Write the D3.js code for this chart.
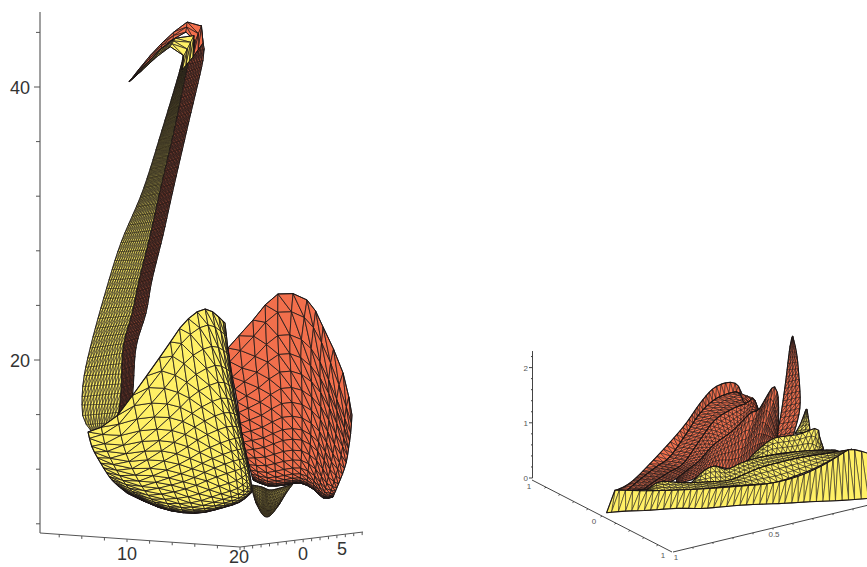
<!DOCTYPE html>
<html>
  <head>
    <meta charset="utf-8">
    <script src="https://d3js.org/d3.v7.min.js"></script>
    <title>Swan surface and ridge surface</title>
    <style>
      body { margin: 0px; background: #fff; }
      svg { display: block; }
      .big text { font-family: "Liberation Sans", sans-serif; font-size: 18px; fill: #333; }
      .small text { font-family: "Liberation Sans", sans-serif; font-size: 8px; fill: #555; opacity: 0.99; }
    </style>
  </head>
  <body>
    <script>
      // values, as [horizontal axis units, vertical axis units]
      // every rail is one edge or ridge line of a surface; the mesh is spun between rails

      // left plot ticks
      const swanZTicks = [8, 12, 16, 20, 24, 28, 32, 36, 40, 44];
      const swanZLabels = [20, 40];
      const swanXTicks = [4, 6, 8, 10, 12, 14, 16, 18, 20];
      const swanXLabels = [10, 20];
      const swanYTicks = [-7, -6, -5, -4, -3, -2, -1, 0, 1, 2, 3, 4, 5, 6, 7];
      const swanYLabels = [0, 5];

      // neck, bottom to top
      const neckLeft = [[6.9,14.73],[6.19,15.6],[6.02,16.7],[6.19,18.75],[6.99,21.68],[8.41,25.86],[9.56,28.79],[11.42,32.45],[13.1,36.85],[14.69,41.25],[14.96,42.34]];
      const neckMid = [[8.67,14.87],[9.2,15.97],[9.47,17.8],[9.65,20.95],[10.44,23.44],[11.06,25.86],[12.04,29.16],[12.92,32.45],[14.25,37.22],[15.31,41.47],[15.66,42.71]];
      const neckRedInner = [[8.67,14.87],[9.2,15.97],[9.47,17.8],[9.65,20.95],[10.44,23.44],[11.06,25.86],[12.04,29.16],[12.92,32.45],[14.25,37.22],[15.31,41.47],[15.66,42.71],[16.02,44.1]];
      const neckRight = [[9.56,15.24],[10.27,16.34],[10.53,17.8],[10.8,20.95],[11.68,23.44],[12.21,25.86],[13.19,29.16],[14.07,32.45],[15.4,37.22],[16.73,41.98],[16.73,43.22],[16.55,44.54]];

      // head, beak tip to crown
      const headTop = [[10.18,40.37],[11.86,42.12],[13.54,43.59],[14.51,44.25],[15.58,44.84],[16.55,44.54],[16.73,43.22]];
      const headMid = [[10.18,40.37],[12.04,41.98],[13.54,43.22],[14.51,43.66],[15.31,44.03],[16.02,43.59],[15.84,42.2]];
      const headUnder = [[10.18,40.37],[11.86,41.61],[12.92,42.42],[14.07,43.0],[14.96,42.34],[15.4,41.98],[14.87,41.25]];

      // yellow body, upper edge to belly
      const bodyRail0 = [[6.55,14.73],[6.9,13.63],[7.61,12.53],[8.67,11.21],[10.0,10.26]];
      const bodyRail1 = [[8.76,15.6],[9.2,13.77],[10.0,12.09],[11.15,10.48],[12.48,9.3]];
      const bodyRail2 = [[11.15,18.17],[11.77,15.6],[12.48,13.04],[13.36,10.84],[14.51,8.86]];
      const bodyRail3 = [[13.36,20.73],[13.98,17.44],[14.69,14.14],[15.58,10.84],[16.46,8.79]];
      const bodyRail4 = [[15.13,22.78],[15.75,18.9],[16.64,14.87],[17.52,11.58],[18.41,9.16]];
      const bodyRail5 = [[16.99,23.74],[17.79,20],[18.67,15.97],[19.56,12.31],[20,9.6]];
      const bodyRail6 = [[18.67,22.71],[19.29,18.53],[20.27,14.14],[20.88,11.58],[21.06,10.33]];

      // red wing, upper edge to lower edge
      const wingRail0 = [[18.94,20.88],[19.29,18.9],[19.73,17.07],[20.27,14.14],[21.15,11.21]];
      const wingRail1 = [[21.15,22.93],[21.33,20.37],[21.77,17.07],[22.12,13.77],[22.48,10.77]];
      const wingRail2 = [[23.36,24.84],[23.36,21.47],[23.63,17.8],[23.81,14.14],[23.98,10.84]];
      const wingRail3 = [[25.93,24.4],[25.4,21.1],[25.49,17.8],[25.49,14.14],[25.31,10.99]];
      const wingRail4 = [[27.35,22.42],[27.08,19.63],[27.17,16.7],[26.9,13.41],[26.46,10.55]];
      const wingRail5 = [[29.12,19.05],[28.58,17.44],[28.58,15.24],[28.05,12.31],[27.35,9.89]];
      const wingRail6 = [[29.91,15.97],[29.82,14.87],[29.65,13.77],[29.29,12.16],[28.23,9.96]];

      // small yellow cone under the wing
      const coneRail0 = [[21.06,10.84],[21.15,10.26],[21.42,9.52]];
      const coneRail1 = [[21.95,10.7],[21.95,9.74],[21.95,8.72]];
      const coneRail2 = [[22.65,10.48],[22.57,9.52],[22.39,8.5]];
      const coneRail3 = [[23.54,10.62],[23.27,9.74],[22.83,8.72]];
      const coneRail4 = [[24.69,10.92],[24.16,10.33],[23.45,9.38]];

      // right plot ticks
      const ridgeZMajor = [0, 1, 2];
      const ridgeZMinor = [0.2, 0.4, 0.6, 0.8, 1.2, 1.4, 1.6, 1.8, 2.2];
      const ridgeYTicks = [-0.8, -0.6, -0.4, -0.2, 0, 0.2, 0.4, 0.6, 0.8];
      const ridgeYLabels = [[-1, "1"], [0, "0"], [1, "1"]];
      const ridgeXTicks = [0.9, 0.8, 0.7, 0.6, 0.5, 0.4, 0.3, 0.2, 0.1];
      const ridgeXLabels = [[1, "1"], [0.5, "0.5"]];

      // red ridges, ridge line and foot
      const ridge1Top = [[1.282,-.218],[1.207,-.067],[1.082,.386],[.948,.929],[.865,1.352],[.798,1.624],[.732,1.727],[.682,1.703],[.657,1.533],[.648,1.413]];
      const ridge2Top = [[1.232,-.23],[1.148,.023],[1.082,.205],[1.015,.386],[.932,.809],[.865,1.171],[.782,1.443],[.682,1.564],[.662,1.503],[.648,1.382]];
      const ridge3Top = [[1.148,-.206],[1.082,-.037],[1.015,.114],[.948,.265],[.865,.688],[.79,1.05],[.698,1.262],[.632,1.352],[.598,1.443],[.573,1.231]];
      const ridge3Base = [[1.082,-.206],[.982,-.007],[.923,.156],[.865,.325],[.798,.597],[.715,.809],[.665,.96],[.615,1.171],[.573,1.231],[.573,1.231]];
      const ridge4Top = [[.982,-.007],[.923,.156],[.865,.325],[.798,.597],[.698,.869],[.615,1.171],[.573,1.231],[.532,1.473],[.498,1.654],[.477,1.533],[.472,1.171],[.478,.688]];
      const ridge4Base = [[.982,-.097],[.898,-.019],[.84,.144],[.79,.217],[.732,.174],[.682,.205],[.615,.356],[.565,.507],[.523,.597],[.498,.658],[.482,.676],[.478,.688]];
      const spikeLeft = [[.49,.688],[.465,1.05],[.44,1.654],[.415,2.379],[.402,2.572]];
      const spikeRight = [[.398,.778],[.365,1.292],[.373,1.956],[.385,2.319],[.402,2.572]];

      // yellow ridges in front
      const farPeakLeft = [[.39,.808],[.365,.96],[.335,1.243]];
      const farPeakRight = [[.315,.839],[.318,.96],[.33,1.243]];
      const yellow1Top = [[.615,.374],[.557,.567],[.498,.718],[.432,.76],[.365,.797],[.282,.899],[.265,.718],[.248,.537]];
      const yellow1Base = [[.615,.265],[.548,.386],[.482,.434],[.432,.458],[.382,.476],[.315,.495],[.273,.507],[.248,.519]];
      const yellow2Top = [[.89,-.019],[.84,.144],[.79,.217],[.732,.156],[.665,.265],[.615,.325],[.548,.386],[.382,.476],[.282,.501],[.19,.507]];
      const yellow2Base = [[.915,-.109],[.815,-.097],[.715,-.037],[.632,.084],[.548,.205],[.465,.283],[.382,.356],[.298,.416],[.215,.458],[.165,.476]];
      const yellow3Top = [[1.132,-.218],[1.065,-.067],[.948,-.085],[.815,-.067],[.715,-.037],[.632,.084],[.548,.205],[.382,.356],[.248,.434],[.107,.519]];
      const yellow3Base = [[1.132,-.23],[1.015,-.224],[.882,-.206],[.748,-.158],[.615,-.122],[.498,-.085],[.398,.023],[.282,.193],[.173,.398],[.107,.519]];
      const skirtTop = [[1.29,-.218],[1.132,-.23],[.982,-.218],[.815,-.188],[.648,-.14],[.515,-.097],[.382,.023],[.265,.205],[.165,.416],[.107,.519],[-.002,.416]];
      const skirtBottom = [[1.332,-.629],[1.232,-.599],[1.132,-.587],[.982,-.55],[.848,-.55],[.648,-.49],[.448,-.46],[.315,-.43],[.182,-.411],[.082,-.387],[-.002,-.363]];

      const width = 867;
      const height = 567;
      const yellow = "#fff066";
      const red = "#f26f4c";

      const svg = d3.select("body").append("svg")
        .attr("width", width)
        .attr("height", height);

      // scales
      const swanX = d3.scaleLinear().domain([10, 20]).range([127, 240]);
      const swanZ = d3.scaleLinear().domain([20, 40]).range([360, 87]);
      const swanXAxis = d3.scaleLinear().domain([2.3, 20]).range([[40, 533], [240, 547]]);
      const swanYAxis = d3.scaleLinear().domain([-7.5, 7.1]).range([[240, 547], [363, 532]]);

      const ridgeX = d3.scaleLinear().domain([1, 0.5]).range([673, 773]);
      const ridgeZ = d3.scaleLinear().domain([0, 2]).range([478, 367.6]);
      const ridgeXAxis = d3.scaleLinear().domain([1, 0]).range([[673, 552], [873, 504]]);
      const ridgeYAxis = d3.scaleLinear().domain([-1, 1]).range([[532, 480], [672, 552]]);

      // catmull-rom through a list of points, s from 0 to 1
      function through(p, s) {
        const n = p.length - 1;
        const k = Math.min(Math.floor(s * n), n - 1);
        const t = s * n - k;
        if (n === 1) return [p[0][0] + (p[1][0] - p[0][0]) * t, p[0][1] + (p[1][1] - p[0][1]) * t];
        const a = p[Math.max(k - 1, 0)], b = p[k], c = p[k + 1], d = p[Math.min(k + 2, n)];
        return [0, 1].map(i => 0.5 * (2 * b[i] + (c[i] - a[i]) * t
          + (2 * a[i] - 5 * b[i] + 4 * c[i] - d[i]) * t * t
          + (3 * b[i] - a[i] - 3 * c[i] + d[i]) * t * t * t));
      }

      // walk a rail by its length so the cells come out even
      function railWalker(rail) {
        let total = 0;
        const lengths = rail.map((d, i) => {
          if (i > 0) total += Math.hypot(d[0] - rail[i - 1][0], d[1] - rail[i - 1][1]);
          return total;
        });
        const toIndex = d3.scaleLinear().domain(lengths).range(d3.range(rail.length));
        return s => through(rail, toIndex(s * total) / (rail.length - 1));
      }

      function drawSurface(g, rails, x, z, opts) {
        const walkers = rails.map(r => railWalker(r.map(d => [x(d[0]), z(d[1])])));
        const along = opts.along || (t => t);
        const across = opts.across || (t => t);

        const grid = d3.range(opts.nu + 1).map(i => {
          const row = walkers.map(w => w(along(i / opts.nu)));
          return d3.range(opts.nv + 1).map(j => through(row, across(j / opts.nv)));
        });

        const triangles = [];
        for (let i = 0; i < opts.nu; i++) {
          for (let j = 0; j < opts.nv; j++) {
            const a = grid[i][j], b = grid[i + 1][j], c = grid[i + 1][j + 1], d = grid[i][j + 1];
            triangles.push([a, b, c], [a, c, d]);
          }
        }

        const line = d3.line();
        g.append("g").selectAll("path").data(triangles).join("path")
          .attr("d", d => line(d) + "Z")
          .attr("fill", opts.fill)
          .attr("stroke", "#1c1616")
          .attr("stroke-width", opts.stroke)
          .attr("stroke-linejoin", "round");

        const outline = grid[0]
          .concat(grid.map(r => r[opts.nv]))
          .concat(grid[opts.nu].slice().reverse())
          .concat(grid.map(r => r[0]).reverse());
        g.append("path")
          .attr("d", line(outline) + "Z")
          .attr("fill", "none")
          .attr("stroke", "#1c1616")
          .attr("stroke-width", opts.edge)
          .attr("stroke-linejoin", "round");
      }

      function obliqueTicks(g, scale, values, dx, dy, color) {
        g.append("g").selectAll("line").data(values).join("line")
          .attr("x1", d => scale(d)[0])
          .attr("y1", d => scale(d)[1])
          .attr("x2", d => scale(d)[0] + dx)
          .attr("y2", d => scale(d)[1] + dy)
          .attr("stroke", color)
          .attr("stroke-width", 1);
      }

      function obliqueLine(g, scale, color, w) {
        // the scale hands back the same array each call, so copy the ends
        const ends = scale.domain().map(d => scale(d).slice());
        g.append("line")
          .attr("x1", ends[0][0]).attr("y1", ends[0][1])
          .attr("x2", ends[1][0]).attr("y2", ends[1][1])
          .attr("stroke", color)
          .attr("stroke-width", w);
      }

      // ---- left plot
      const swanG = svg.append("g").attr("class", "big");
      const swanAxisColor = "#555";

      swanG.append("line")
        .attr("x1", 40).attr("x2", 40)
        .attr("y1", 12).attr("y2", swanXAxis(2.3)[1])
        .attr("stroke", "#808080")
        .attr("stroke-width", 1.5);
      swanG.append("g").selectAll("line").data(swanZTicks).join("line")
        .attr("x1", d => swanZLabels.includes(d) ? 34 : 36)
        .attr("x2", 40)
        .attr("y1", d => swanZ(d))
        .attr("y2", d => swanZ(d))
        .attr("stroke", swanAxisColor);
      swanG.append("g").selectAll("text").data(swanZLabels).join("text")
        .attr("x", 30)
        .attr("y", d => swanZ(d) + 7)
        .attr("text-anchor", "end")
        .text(d => d);

      obliqueLine(swanG, swanXAxis, swanAxisColor, 1);
      obliqueTicks(swanG, swanXAxis, swanXTicks, 0, 3, swanAxisColor);
      obliqueLine(swanG, swanYAxis, swanAxisColor, 1);
      obliqueTicks(swanG, swanYAxis, swanYTicks, 0, 3, swanAxisColor);

      swanG.append("text").attr("x", 127).attr("y", 560).attr("text-anchor", "middle").text(swanXLabels[0]);
      swanG.append("text").attr("x", 239).attr("y", 563).attr("text-anchor", "middle").text(swanXLabels[1]);
      swanG.append("text").attr("x", 303).attr("y", 560).attr("text-anchor", "middle").text(swanYLabels[0]);
      swanG.append("text").attr("x", 342).attr("y", 555).attr("text-anchor", "middle").text(swanYLabels[1]);

      drawSurface(swanG, [neckRedInner, neckRight], swanX, swanZ, { nu: 46, nv: 9, fill: red, stroke: 0.7, edge: 0.9 });
      drawSurface(swanG, [neckLeft, neckMid], swanX, swanZ, { nu: 40, nv: 13, fill: yellow, stroke: 0.55, edge: 0.8 });
      drawSurface(swanG, [headTop, headMid], swanX, swanZ, { nu: 7, nv: 2, fill: red, stroke: 0.7, edge: 1 });
      drawSurface(swanG, [headMid, headUnder], swanX, swanZ, { nu: 5, nv: 3, fill: yellow, stroke: 0.7, edge: 1 });

      drawSurface(swanG, [wingRail0, wingRail1, wingRail2, wingRail3, wingRail4, wingRail5, wingRail6], swanX, swanZ,
        { nu: 18, nv: 12, along: d3.easePolyOut.exponent(2.1), fill: red, stroke: 0.8, edge: 1 });
      drawSurface(swanG, [coneRail0, coneRail1, coneRail2, coneRail3, coneRail4], swanX, swanZ,
        { nu: 10, nv: 22, along: d3.easePolyIn.exponent(1.3), fill: yellow, stroke: 0.6, edge: 0.8 });
      drawSurface(swanG, [bodyRail0, bodyRail1, bodyRail2, bodyRail3, bodyRail4, bodyRail5, bodyRail6], swanX, swanZ,
        { nu: 18, nv: 14, along: d3.easePolyOut.exponent(1.9), across: d3.easePolyOut.exponent(1.4), fill: yellow, stroke: 0.8, edge: 1.1 });

      // ---- right plot
      const ridgeG = svg.append("g").attr("class", "small");
      const ridgeAxisColor = "#444";

      ridgeG.append("line")
        .attr("x1", 532.5).attr("x2", 532.5)
        .attr("y1", ridgeZ(2.3)).attr("y2", ridgeZ(0))
        .attr("stroke", ridgeAxisColor);
      ridgeG.append("g").selectAll("line").data(ridgeZMajor).join("line")
        .attr("x1", 529).attr("x2", 532.5)
        .attr("y1", d => ridgeZ(d)).attr("y2", d => ridgeZ(d))
        .attr("stroke", ridgeAxisColor);
      ridgeG.append("g").selectAll("line").data(ridgeZMinor).join("line")
        .attr("x1", 531).attr("x2", 532.5)
        .attr("y1", d => ridgeZ(d)).attr("y2", d => ridgeZ(d))
        .attr("stroke", ridgeAxisColor);
      ridgeG.append("g").selectAll("text").data(ridgeZMajor).join("text")
        .attr("x", 528)
        .attr("y", d => ridgeZ(d) + 3)
        .attr("text-anchor", "end")
        .text(d => d);

      obliqueLine(ridgeG, ridgeYAxis, ridgeAxisColor, 1);
      obliqueTicks(ridgeG, ridgeYAxis, ridgeYTicks, -1.5, 1, ridgeAxisColor);
      obliqueLine(ridgeG, ridgeXAxis, ridgeAxisColor, 1);
      obliqueTicks(ridgeG, ridgeXAxis, ridgeXTicks, 0, 1.5, ridgeAxisColor);

      ridgeG.append("text").attr("x", 529).attr("y", 489).attr("text-anchor", "middle").text(ridgeYLabels[0][1]);
      ridgeG.append("text").attr("x", 594).attr("y", 524).attr("text-anchor", "middle").text(ridgeYLabels[1][1]);
      ridgeG.append("text").attr("x", 663).attr("y", 558).attr("text-anchor", "middle").text(ridgeYLabels[2][1]);
      ridgeG.append("text").attr("x", 676).attr("y", 560).attr("text-anchor", "middle").text(ridgeXLabels[0][1]);
      ridgeG.append("text").attr("x", 774).attr("y", 537).attr("text-anchor", "middle").text(ridgeXLabels[1][1]);

      const ridgeOpts = { stroke: 0.55, edge: 1.1 };
      drawSurface(ridgeG, [ridge1Top, ridge2Top], ridgeX, ridgeZ, { ...ridgeOpts, nu: 38, nv: 1, fill: red });
      drawSurface(ridgeG, [ridge2Top, ridge3Top], ridgeX, ridgeZ, { ...ridgeOpts, nu: 36, nv: 3, fill: red });
      drawSurface(ridgeG, [ridge3Top, ridge3Base], ridgeX, ridgeZ, { ...ridgeOpts, nu: 34, nv: 4, fill: red });
      drawSurface(ridgeG, [spikeLeft, spikeRight], ridgeX, ridgeZ, { ...ridgeOpts, nu: 18, nv: 4, fill: red });
      drawSurface(ridgeG, [ridge4Top, ridge4Base], ridgeX, ridgeZ, { ...ridgeOpts, nu: 36, nv: 6, fill: red });
      drawSurface(ridgeG, [farPeakLeft, farPeakRight], ridgeX, ridgeZ, { ...ridgeOpts, nu: 6, nv: 3, fill: yellow });
      drawSurface(ridgeG, [yellow1Top, yellow1Base], ridgeX, ridgeZ, { ...ridgeOpts, nu: 16, nv: 3, fill: yellow });
      drawSurface(ridgeG, [yellow2Top, yellow2Base], ridgeX, ridgeZ, { ...ridgeOpts, nu: 30, nv: 3, fill: yellow });
      drawSurface(ridgeG, [yellow3Top, yellow3Base], ridgeX, ridgeZ, { ...ridgeOpts, nu: 34, nv: 3, fill: yellow });
      drawSurface(ridgeG, [skirtTop, skirtBottom], ridgeX, ridgeZ, { ...ridgeOpts, nu: 42, nv: 1, fill: yellow });
    </script>
  </body>
</html>
